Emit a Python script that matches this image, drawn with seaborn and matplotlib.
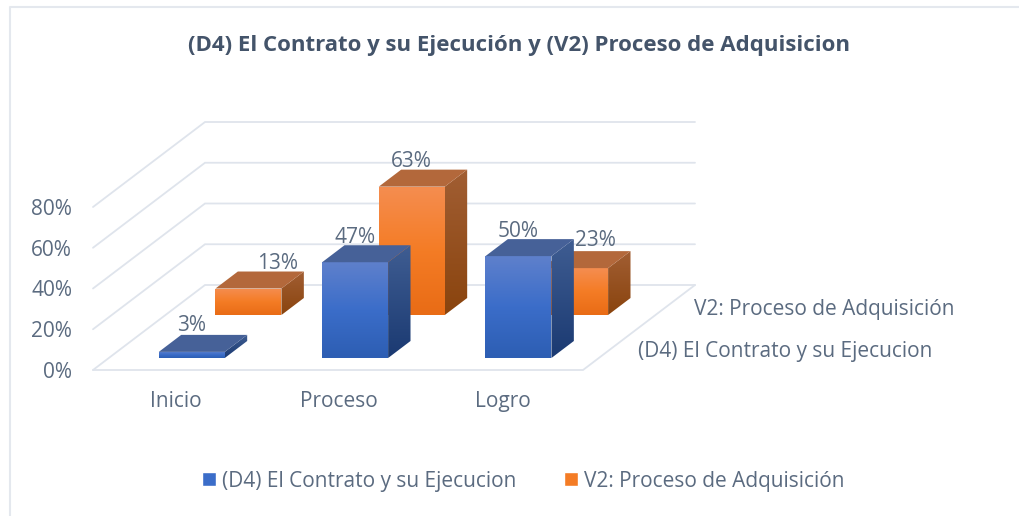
import numpy as np
import pandas as pd
import seaborn as sns
import matplotlib
matplotlib.use("Agg")
import matplotlib.pyplot as plt
from matplotlib.colors import LinearSegmentedColormap
from matplotlib.lines import Line2D
from matplotlib.patches import Polygon, Patch

categories = ["Inicio", "Proceso", "Logro"]
front_name = "(D4) El Contrato y su Ejecucion"
rear_name = "V2: Proceso de Adquisición"
front_values = [3, 47, 50]
rear_values = [13, 63, 23]
y_ticks = [0, 20, 40, 60, 80]
title = "(D4) El Contrato y su Ejecución y (V2) Proceso de Adquisicion"

W, H = 1019, 516
sns.set_theme(style="white")
plt.rcParams["font.family"] = ["Open Sans", "DejaVu Sans"]
TXT = "#5B6B80"
TITLE = "#44546A"
GRID = "#DFE4EC"
FS = 15

fig = plt.figure(figsize=(W / 100, H / 100), dpi=100, facecolor="white")
ax = fig.add_axes([93 / W, 1 - 370 / H, (583 - 93) / W, (370 - 207) / H])
ax.patch.set_alpha(0)

# oblique projection: one unit of depth in axis units
DX, DY = 112 / 163.33, 85 / 2.0375
XMIN, XMAX = -0.508, 2.492
BAR_W = 0.404
THICK = 17 / 85


def gradient(colors, extent, clip, z):
    cmap = LinearSegmentedColormap.from_list("g", colors)
    im = ax.imshow(np.linspace(0, 1, 64)[:, None], extent=extent, cmap=cmap, vmin=0, vmax=1,
                   aspect="auto", interpolation="bilinear", origin="upper", zorder=z)
    im.set_clip_box(fig.bbox)
    im.set_clip_path(clip)


def draw_series(values, d0, front_cols, top_col, side_cols, z):
    xs = [i + DX * d0 for i in range(len(values))]
    base = DY * d0
    n0 = len(ax.patches)
    df = pd.DataFrame({"x": xs, "v": values})
    sns.barplot(data=df, x="x", y="v", native_scale=True, width=BAR_W, bottom=base,
                color=front_cols[1], saturation=1, errorbar=None, ax=ax, zorder=z, linewidth=0)
    bars = ax.patches[n0:]
    dx, dy = DX * THICK, DY * THICK
    for bar, v in zip(bars, values):
        bar.set_clip_on(False)
        xl, xr = bar.get_x(), bar.get_x() + bar.get_width()
        top = base + v
        clip = Polygon([(xl, base), (xr, base), (xr, top), (xl, top)], transform=ax.transData)
        gradient(front_cols, (xl, xr, base, top), clip, z)
        side = Polygon([(xr, base), (xr + dx, base + dy), (xr + dx, top + dy), (xr, top)],
                       transform=ax.transData)
        gradient(side_cols, (xr, xr + dx, base, top + dy), side, z)
        ax.add_patch(Polygon([(xl, top), (xr, top), (xr + dx, top + dy), (xl + dx, top + dy)],
                             facecolor=top_col, edgecolor="none", zorder=z, clip_on=False))
    return [b.get_x() + b.get_width() / 2 for b in bars], [base + v + dy for v in values]


# walls and floor
for t in y_ticks:
    ax.plot([XMIN, XMIN + DX, XMAX + DX], [t, t + DY, t + DY], color=GRID, lw=1.3,
            clip_on=False, zorder=1, solid_joinstyle="miter")
ax.plot([XMIN, XMAX, XMAX + DX], [0, 0, DY], color=GRID, lw=1.3, clip_on=False, zorder=1,
        solid_joinstyle="miter")

rear_x, rear_top = draw_series(rear_values, 55 / 85,
                               ["#F58D50", "#F47C25", "#E96C16"], "#B3683B",
                               ["#A15E33", "#8A440E"], 3)
front_x, front_top = draw_series(front_values, 12 / 85,
                                 ["#5E80CC", "#3B6DC9", "#2D5EB3"], "#466198",
                                 ["#3F5D92", "#1B3A72"], 4)

# data labels (pixel nudges from the top back edge of each bar)
rear_nudge = [(29, 8), (0, 8), (20, 11)]
front_nudge = [(0, 9), (0, 8), (0, 8)]
for xs, tops, vals, nudges in [(rear_x, rear_top, rear_values, rear_nudge),
                               (front_x, front_top, front_values, front_nudge)]:
    for x, t, v, n in zip(xs, tops, vals, nudges):
        ax.annotate(f"{v}%", xy=(x, t), xytext=n, textcoords="offset pixels", ha="center",
                    va="center", fontsize=FS, color=TXT, zorder=6, annotation_clip=False)

ax.set_xlim(XMIN, XMAX)
ax.set_ylim(0, 80)
ax.set_xticks(range(len(categories)), categories)
ax.set_yticks(y_ticks, [f"{t}%" for t in y_ticks])
ax.set_xlabel("")
ax.set_ylabel("")
ax.tick_params(axis="both", length=0, labelsize=FS, labelcolor=TXT)
ax.tick_params(axis="x", pad=15)
ax.tick_params(axis="y", pad=15)
sns.despine(ax=ax, left=True, bottom=True)

# depth axis labels
fig.text(694 / W, 1 - 309 / H, rear_name, fontsize=FS, color=TXT, va="center", ha="left")
fig.text(638 / W, 1 - 352 / H, front_name, fontsize=FS, color=TXT, va="center", ha="left")

fig.suptitle(title, x=519 / W, y=1 - 45 / H, va="center", ha="center", fontsize=16,
             fontweight="bold", color=TITLE)

handles = [Patch(facecolor="#3B6DC9", label=front_name), Patch(facecolor="#F47C25", label=rear_name)]
fig.legend(handles=handles, loc="center", bbox_to_anchor=(523.5 / W, 1 - 481 / H), ncol=2, frameon=False,
           fontsize=FS, labelcolor=TXT, handlelength=0.65, handleheight=0.65, handletextpad=0.3,
           columnspacing=2.3)

# chart frame
fig.add_artist(Line2D([9.5 / W, 9.5 / W, 1], [0, 1 - 7 / H, 1 - 7 / H], transform=fig.transFigure,
                      color="#E4E8EE", lw=1.5))

fig.savefig("out.png", dpi=100, facecolor="white")
